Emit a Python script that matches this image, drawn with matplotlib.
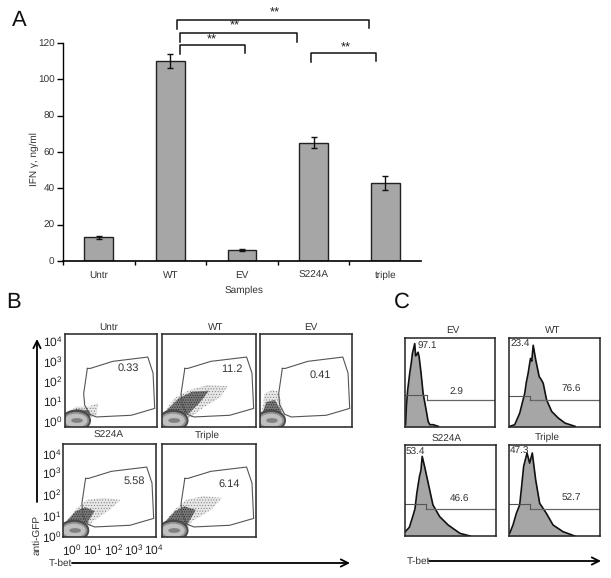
import matplotlib
matplotlib.use("Agg")
import matplotlib.pyplot as plt
from matplotlib.patches import Ellipse, Polygon

plt.rcParams['font.family'] = ['Liberation Sans', 'DejaVu Sans']
plt.rcParams['mathtext.default'] = 'regular'
plt.rcParams['text.hinting'] = 'no_hinting'
plt.rcParams['text.hinting_factor'] = 1
plt.rcParams['hatch.linewidth'] = 0.3

W, H = 611, 578

# Panel A
samples = ['Untr', 'WT', 'EV', 'S224A', 'triple']
ifn = [13, 110, 6, 65, 43]
ifn_err = [1, 4, 0.5, 3, 4]

# Panel B
flow_titles = ['Untr', 'WT', 'EV', 'S224A', 'Triple']
flow_values = ['0.33', '11.2', '0.41', '5.58', '6.14']
decades = ['$10^{0}$', '$10^{1}$', '$10^{2}$', '$10^{3}$', '$10^{4}$']
gate_x = [.243, .275, .52, .90, .957, .975, .72, .34, .268, .214, .203, .243]
gate_y = [.63, .63, .706, .752, .58, .2, .126, .108, .137, .235, .36, .63]
# outline of the dotted cloud, read by eye
clouds = {
    'Untr': [(.02, .14), (.12, .22), (.26, .22), (.36, .26), (.34, .12), (.10, .08)],
    'WT': [(.01, .14), (.14, .32), (.30, .40), (.48, .45), (.70, .44), (.62, .32),
           (.44, .21), (.30, .10), (.15, .05)],
    'EV': [(.02, .16), (.05, .36), (.14, .40), (.20, .38), (.24, .22), (.28, .10), (.06, .08)],
    'S224A': [(.01, .14), (.14, .30), (.26, .40), (.44, .42), (.62, .40), (.50, .29),
              (.32, .17), (.26, .07), (.10, .05)],
    'Triple': [(.01, .14), (.14, .30), (.26, .40), (.44, .44), (.64, .42), (.52, .29),
               (.32, .17), (.26, .07), (.10, .05)],
}
# denser middle of each cloud
cores = {
    'Untr': [(.02, .14), (.12, .19), (.26, .18), (.28, .12), (.10, .08)],
    'WT': [(.03, .16), (.18, .31), (.32, .38), (.50, .39), (.40, .26), (.28, .14), (.12, .10)],
    'EV': [(.03, .16), (.07, .27), (.16, .29), (.23, .18), (.24, .10), (.06, .10)],
    'S224A': [(.03, .16), (.14, .28), (.24, .32), (.34, .28), (.24, .12), (.10, .10)],
    'Triple': [(.03, .16), (.14, .28), (.24, .33), (.36, .29), (.26, .12), (.10, .10)],
}

# Panel C
hist_titles = ['EV', 'WT', 'S224A', 'Triple']
hist_low = ['97.1', '23.4', '53.4', '47.3']
hist_high = ['2.9', '76.6', '46.6', '52.7']
hist_x = [
    [.007, .015, .03, .052, .07, .082, .108, .118, .127, .145, .157, .179, .201, .228, .257, .276, .313, .37],
    [.007, .063, .118, .173, .19, .210, .236, .25, .266, .295, .332, .35, .376, .413, .469, .542, .616, .727],
    [.004, .048, .085, .110, .130, .159, .175, .189, .215, .263, .307, .381, .474, .604, .715],
    [.007, .044, .081, .117, .135, .161, .198, .227, .256, .293, .337, .370, .410, .484, .593, .722],
]
hist_y = [
    [.026, .23, .416, .6, .72, .825, .937, .80, .807, .84, .788, .6, .38, .23, .063, .026, .026, .007],
    [.007, .026, .156, .379, .50, .602, .770, .74, .918, .747, .565, .54, .491, .305, .175, .100, .044, .007],
    [.048, .096, .213, .30, .471, .654, .72, .875, .765, .544, .342, .213, .121, .029, .0],
    [.029, .121, .250, .34, .507, .765, .912, .801, .912, .618, .360, .31, .250, .121, .048, .0],
]
hist_left_y = [.357, .353, .349, .349]
hist_right_y = [.30, .305, .298, .301]
hist_cut = [.239, .229, .233, .227]

# pixel boxes: left, top, right, bottom
flow_boxes = [(65, 334, 157, 427), (162, 334, 256, 427), (260, 334, 352, 427),
              (63, 444, 156, 537), (162, 444, 256, 537)]
hist_boxes = [(405, 338, 495, 427), (509, 338, 600, 427), (405, 445, 496, 536), (509, 445, 600, 536)]


def add_px_axes(fig, box):
    l, t, r, b = box
    return fig.add_axes([l / W, 1 - b / H, (r - l) / W, (b - t) / H])


fig = plt.figure(figsize=(W / 100, H / 100), dpi=100)

# A: bars
ax = add_px_axes(fig, (63, 43, 421, 261))
ax.bar(range(5), ifn, width=0.405, color='#a6a6a6', edgecolor='#222222', linewidth=1)
ax.errorbar(range(5), ifn, yerr=ifn_err, fmt='none', ecolor='#111111', elinewidth=1, capsize=2.5, capthick=1)
ax.set_xlim(-0.5, 4.5)
ax.set_ylim(0, 120)
ax.set_yticks(range(0, 121, 20))
ax.set_yticklabels(range(0, 121, 20), color='#333333')
ax.set_xticks([-0.5, 0.5, 1.5, 2.5, 3.5])
ax.set_xticklabels([])
ax.set_xticks(range(5), minor=True)
ax.set_xticklabels(samples, minor=True, fontsize=7.5, color='#333333')
ax.tick_params(axis='x', which='minor', length=0, pad=7)
ax.tick_params(axis='x', which='major', length=3, width=1)
ax.tick_params(axis='y', length=4, width=1, labelsize=7.5, pad=2)
ax.spines['top'].set_visible(False)
ax.spines['right'].set_visible(False)
ax.spines['bottom'].set_linewidth(1.2)
ax.spines['left'].set_linewidth(1)

# B: flow plots
for box, name, val in zip(flow_boxes, flow_titles, flow_values):
    a = add_px_axes(fig, box)
    a.set_xlim(0, 1)
    a.set_ylim(0, 1)
    a.set_xticks([])
    a.set_yticks([])
    for s in a.spines.values():
        s.set_linewidth(1.2)
        s.set_color('#333333')
    a.add_patch(Polygon(clouds[name], closed=True, facecolor='#e6e6e6', edgecolor='#666666',
                        hatch='......', linewidth=0))
    a.add_patch(Polygon(cores[name], closed=True, facecolor='#777777', edgecolor='#111111',
                        hatch='.......', linewidth=0))
    a.add_patch(Ellipse((.12, .07), .31, .22, color='#4a4a4a'))
    a.add_patch(Ellipse((.12, .07), .27, .17, color='#8f8f8f'))
    a.add_patch(Ellipse((.12, .07), .23, .13, color='#c0c0c0'))
    a.add_patch(Ellipse((.13, .07), .11, .035, color='#808080'))
    a.plot(gate_x, gate_y, color='#555555', lw=0.8)

# C: histograms
for i, box in enumerate(hist_boxes):
    a = add_px_axes(fig, box)
    a.set_xlim(0, 1)
    a.set_ylim(0, 1)
    a.set_xticks([])
    a.set_yticks([])
    for s in a.spines.values():
        s.set_linewidth(1.1)
        s.set_color('#222222')
    a.fill_between(hist_x[i], hist_y[i], color='#a6a6a6', linewidth=0)
    a.plot(hist_x[i], hist_y[i], color='#111111', lw=1.2)
    cut = hist_cut[i]
    a.plot([0, cut], [hist_left_y[i]] * 2, color='#555555', lw=0.8)
    a.plot([cut, 1], [hist_right_y[i]] * 2, color='#666666', lw=0.9)
    a.plot([cut, cut], [hist_right_y[i], hist_left_y[i]], color='#555555', lw=0.8)

# overlay in pixels for brackets, arrows and loose labels
ov = fig.add_axes([0, 0, 1, 1], zorder=10)
ov.set_xlim(0, W)
ov.set_ylim(H, 0)
ov.axis('off')
ov.patch.set_alpha(0)

brackets = [(177, 369, 20, 29, 28), (180, 297, 33, 42, 42), (180, 245, 45, 54, 53), (311, 376, 53, 62, 61)]
for x0, x1, top, yl, yr in brackets:
    ov.plot([x0, x0, x1, x1], [yl, top, top, yr], color='#111111', lw=1.1)
for x, y in [(275, 12), (235, 25), (212, 39), (346, 47)]:
    ov.text(x, y + 1.5, '**', ha='center', va='center', fontsize=9, color='#222222')

ov.text(34, 159, 'IFN \u03b3, ng/ml', rotation=90, ha='center', va='center', fontsize=7, color='#333333')
ov.text(244, 290, 'Samples', ha='center', va='center', fontsize=7.5, color='#333333')

for x, y, s in [(19, 20, 'A'), (14, 302, 'B'), (402, 302, 'C')]:
    ov.text(x, y, s, ha='center', va='center', fontsize=15.5, color='#111111')

title_pos = [(109, 327), (216, 327), (311, 327), (109, 435), (207, 435)]
for (x, y), s in zip(title_pos, flow_titles):
    ov.text(x, y, s, ha='center', va='center', fontsize=7.5, color='#333333')
value_pos = [(128, 368), (232, 369), (320, 375), (134, 481), (229, 484)]
for (x, y), s in zip(value_pos, flow_values):
    ov.text(x, y, s, ha='center', va='center', fontsize=8, color='#333333')

for y, s in zip([422, 402, 382, 362, 342], decades):
    ov.text(53, y, s, ha='center', va='center', fontsize=8.5, color='#222222')
for y, s in zip([537, 517, 495, 473, 455], decades):
    ov.text(52, y, s, ha='center', va='center', fontsize=8.5, color='#222222')
for x, s in zip([72, 93, 114, 134, 154], decades):
    ov.text(x, 550, s, ha='center', va='center', fontsize=8.5, color='#222222')

arrow = dict(arrowstyle='->', color='black', lw=1.3, mutation_scale=13, shrinkA=0, shrinkB=0)
ov.annotate('', xy=(37, 339), xytext=(37, 502), arrowprops=arrow)
ov.annotate('', xy=(350, 563), xytext=(72, 563), arrowprops=arrow)
ov.annotate('', xy=(601, 561), xytext=(429, 561), arrowprops=arrow)
ov.text(37, 535, 'anti-GFP', rotation=90, ha='center', va='center', fontsize=7.5, color='#333333')
ov.text(60, 563, 'T-bet', ha='center', va='center', fontsize=7.5, color='#333333')
ov.text(418, 561, 'T-bet', ha='center', va='center', fontsize=7.5, color='#333333')

hist_title_pos = [(453, 330), (553, 330), (447, 439), (547, 437)]
for (x, y), s in zip(hist_title_pos, hist_titles):
    ov.text(x, y, s, ha='center', va='center', fontsize=7.5, color='#333333')
low_pos = [(427, 346), (520, 344), (415, 452), (519, 451)]
high_pos = [(456, 392), (571, 389), (460, 499), (571, 498)]
for (x, y), s in zip(low_pos, hist_low):
    ov.text(x, y, s, ha='center', va='center', fontsize=7.5, color='#333333')
for (x, y), s in zip(high_pos, hist_high):
    ov.text(x, y, s, ha='center', va='center', fontsize=7.5, color='#333333')

fig.savefig("out.png", dpi=100)
